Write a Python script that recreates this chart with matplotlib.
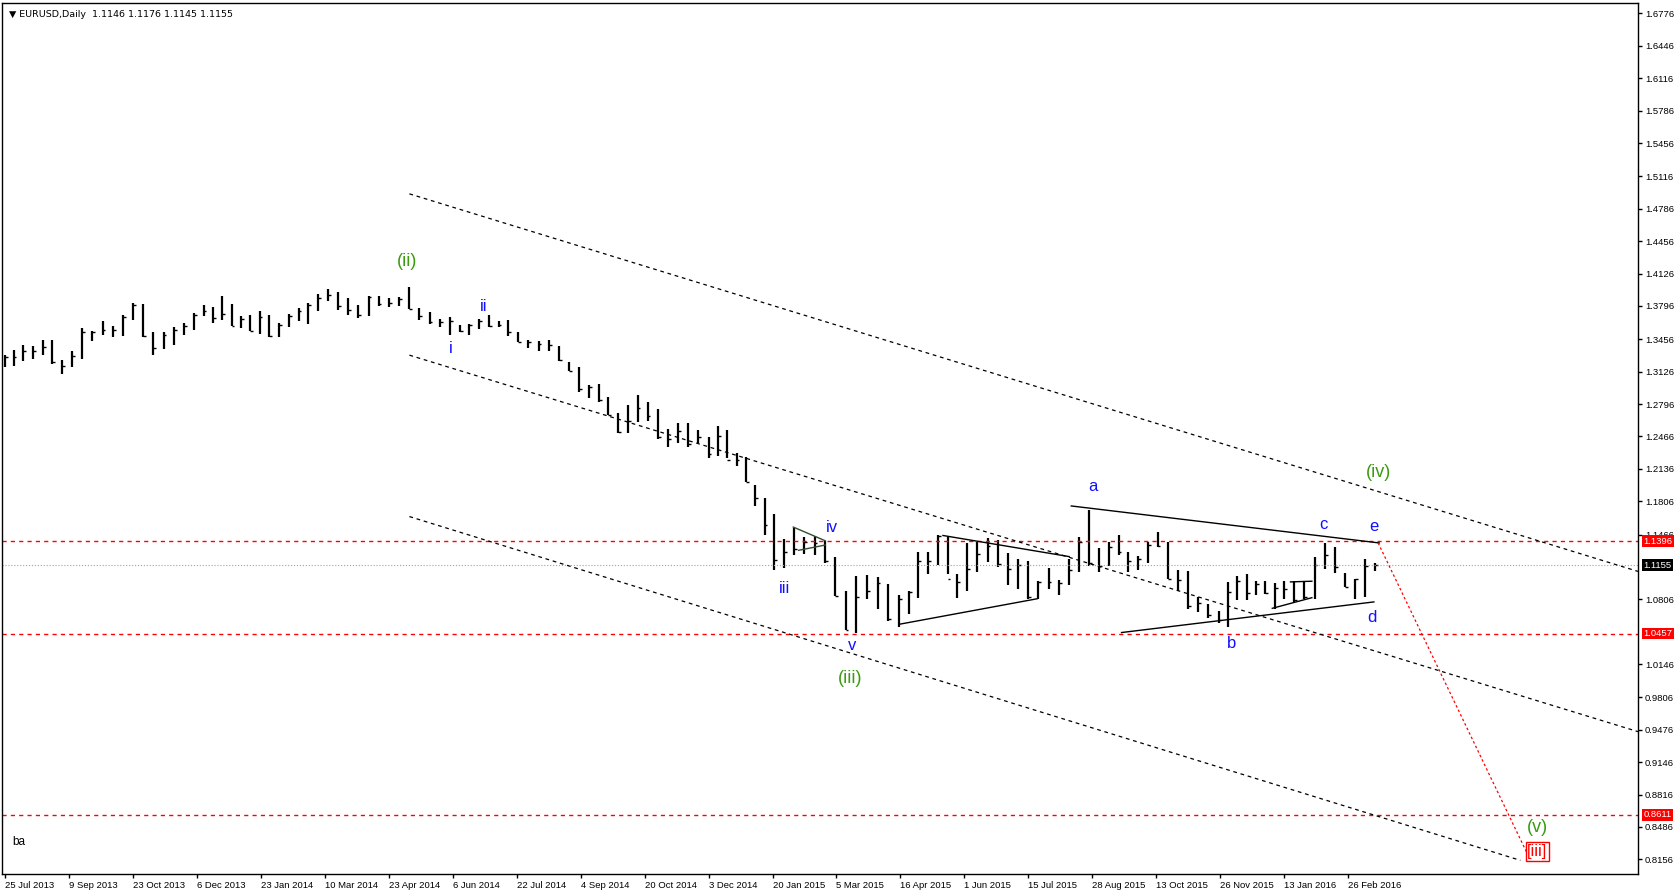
import numpy as np
import pandas as pd
import matplotlib
matplotlib.use("Agg")
import matplotlib.pyplot as plt

# Weekly bars (week starting Monday): high, low, close
week_start = "2013-07-22"
highs = [1.3300,1.3345,1.3400,1.3390,1.3450,1.3450,1.3240,1.3340,1.3570,1.3540,1.3645,1.3590,1.3705,1.3830,1.3815,1.3530,1.3530,1.3580,1.3620,1.3720,1.3810,1.3785,1.3893,1.3815,
         1.3690,1.3700,1.3740,1.3700,1.3620,1.3715,1.3775,1.3825,1.3915,1.3967,1.3935,1.3875,1.3810,1.3900,1.3900,1.3875,1.3890,1.3993,1.3775,1.3735,1.3665,1.3680,1.3600,1.3615,1.3660,1.3700,1.3640,1.3650,1.3530,1.3445,1.3435,1.3445,1.3390,1.3220,1.3170,1.2990,1.3000,1.2865,1.2700,1.2790,1.2885,1.2815,1.2750,1.2540,1.2600,1.2600,1.2530,1.2455,1.2570,1.2530,1.2300,1.2255,
         1.1970,1.1840,1.1680,1.1425,1.1535,1.1445,1.1450,1.1395,1.1240,1.0890,1.1045,1.1050,1.1035,1.0960,1.0850,1.0895,1.1290,1.1290,1.1465,1.1440,1.1060,1.1380,1.1385,1.1435,1.1410,1.1280,1.1215,1.1200,1.0990,1.1125,1.1000,1.1215,1.1440,1.1714,1.1330,1.1385,1.1460,1.1290,1.1245,1.1390,1.1495,1.1390,1.1100,1.1095,1.0825,1.0760,1.0690,1.0980,1.1045,1.1060,1.0990,1.0990,
         1.0970,1.0990,1.0990,1.0990,1.1240,1.1375,1.1340,1.1070,1.1010,1.1215,1.1176]
lows = [1.3175,1.3185,1.3235,1.3255,1.3300,1.3200,1.3105,1.3170,1.3250,1.3440,1.3500,1.3480,1.3490,1.3650,1.3480,1.3295,1.3360,1.3400,1.3500,1.3550,1.3690,1.3625,1.3650,1.3590,
        1.3575,1.3545,1.3510,1.3480,1.3477,1.3585,1.3640,1.3615,1.3740,1.3850,1.3750,1.3705,1.3675,1.3695,1.3795,1.3780,1.3795,1.3765,1.3650,1.3615,1.3585,1.3500,1.3525,1.3500,1.3565,1.3585,1.3585,1.3490,1.3425,1.3365,1.3335,1.3335,1.3235,1.3130,1.2920,1.2860,1.2815,1.2685,1.2500,1.2500,1.2615,1.2625,1.2440,1.2360,1.2400,1.2360,1.2395,1.2245,1.2265,1.2250,1.2160,1.2005,
        1.1755,1.1460,1.1100,1.1120,1.1260,1.1270,1.1260,1.1175,1.0840,1.0490,1.0460,1.0810,1.0710,1.0585,1.0520,1.0660,1.0820,1.1060,1.1160,1.1060,1.0820,1.0890,1.1085,1.1185,1.1135,1.0955,1.0915,1.0810,1.0805,1.0910,1.0850,1.0950,1.1080,1.1150,1.1085,1.1150,1.1260,1.1085,1.1105,1.1180,1.1340,1.1010,1.0895,1.0705,1.0675,1.0620,1.0560,1.0525,1.0800,1.0800,1.0850,1.0860,
        1.0710,1.0805,1.0780,1.0810,1.0810,1.1110,1.1070,1.0930,1.0810,1.0825,1.1095]
closes = [1.3280,1.3275,1.3340,1.3335,1.3380,1.3220,1.3180,1.3290,1.3525,1.3525,1.3555,1.3555,1.3685,1.3805,1.3485,1.3365,1.3495,1.3555,1.3590,1.3705,1.3745,1.3675,1.3710,1.3590,
          1.3665,1.3540,1.3680,1.3485,1.3605,1.3690,1.3740,1.3805,1.3875,1.3910,1.3795,1.3750,1.3705,1.3885,1.3815,1.3830,1.3870,1.3760,1.3695,1.3630,1.3635,1.3645,1.3545,1.3605,1.3645,1.3595,1.3605,1.3525,1.3430,1.3425,1.3410,1.3400,1.3240,1.3130,1.2950,1.2965,1.2835,1.2685,1.2515,1.2625,1.2760,1.2670,1.2455,1.2440,1.2525,1.2390,1.2455,1.2290,1.2465,1.2230,1.2225,1.2000,
          1.1840,1.1565,1.1205,1.1290,1.1315,1.1385,1.1380,1.1195,1.0840,1.0495,1.0825,1.0890,1.0970,1.0600,1.0805,1.0875,1.1200,1.1200,1.1450,1.1015,1.0985,1.1110,1.1265,1.1350,1.1165,1.1110,1.1160,1.0830,1.0980,1.0985,1.0970,1.1105,1.1385,1.1180,1.1150,1.1340,1.1290,1.1195,1.1215,1.1355,1.1350,1.1015,1.1005,1.0740,1.0770,1.0645,1.0590,1.0880,1.0990,1.0865,1.0965,1.0865,
          1.0925,1.0915,1.0795,1.0830,1.1155,1.1255,1.1130,1.0935,1.1010,1.1150,1.1155]

date_labels = ["25 Jul 2013","9 Sep 2013","23 Oct 2013","6 Dec 2013","23 Jan 2014","10 Mar 2014","23 Apr 2014",
               "6 Jun 2014","22 Jul 2014","4 Sep 2014","20 Oct 2014","3 Dec 2014","20 Jan 2015","5 Mar 2015",
               "16 Apr 2015","1 Jun 2015","15 Jul 2015","28 Aug 2015","13 Oct 2015","26 Nov 2015","13 Jan 2016","26 Feb 2016"]
price_ticks = [1.6776,1.6446,1.6116,1.5786,1.5456,1.5116,1.4786,1.4456,1.4126,1.3796,1.3456,1.3126,1.2796,1.2466,
               1.2136,1.1806,1.1466,1.0806,1.0146,0.9806,0.9476,0.9146,0.8816,0.8486,0.8156]
red_levels = [1.1396, 1.0457, 0.8611]
bid = 1.1155

plt.rcParams['font.family'] = ['Liberation Sans', 'DejaVu Sans']
TF = 6.8

label_pos = np.arange(len(date_labels)) * 32.0
label_dates = pd.to_datetime(date_labels, format="%d %b %Y")
label_ord = label_dates.map(pd.Timestamp.toordinal).values.astype(float)

def pos_of_date(d):
    o = float(pd.Timestamp(d).toordinal())
    if o <= label_ord[-1]:
        return float(np.interp(o, label_ord, label_pos))
    return label_pos[-1] + (o - label_ord[-1]) * 32.0 / 45.0

def pos_px(xp):
    return (xp - 3) / 59.8 * 32.0

weeks = pd.date_range(week_start, periods=len(closes), freq="7D") + pd.Timedelta(days=2)
xs = np.array([pos_of_date(d) for d in weeks])

fig = plt.figure(figsize=(16.76, 8.94), dpi=100)
ax = fig.add_axes([2/1676, 20/894, 1636/1676, 871/894])
ax.set_xlim(pos_px(0), pos_px(1530))
ax.set_ylim(0.8006, 1.6883)

ax.vlines(xs, lows, highs, color="black", lw=1.6)
ax.hlines(closes, xs, xs + 1.4, color="black", lw=1.0)

for lv in red_levels:
    ax.axhline(lv, color="#ff0000", ls=(0, (3, 3)), lw=1.0)
ax.axhline(bid, color="#a0a0b0", ls=":", lw=0.8)

def seg(x0, y0, x1, y1, **kw):
    ax.plot([pos_px(x0), pos_px(x1)], [y0, y1], **kw)

dash = dict(color="black", ls=(0, (3, 3)), lw=0.9)
seg(381, 1.4938, 1530, 1.1090, **dash)
seg(381, 1.3294, 1530, 0.9457, **dash)
seg(381, 1.1649, 1420, 0.8145, **dash)
solid = dict(color="black", lw=1.0)
seg(1000, 1.1757, 1288, 1.1380, **solid)
seg(1047, 1.0467, 1283, 1.0779, **solid)
seg(880, 1.1456, 998, 1.1241, **solid)
seg(840, 1.0553, 968, 1.0811, **solid)
seg(740, 1.1542, 770, 1.1402, color="#2f4f2f", lw=1.0)
seg(745, 1.1305, 770, 1.1359, color="#2f4f2f", lw=1.0)
seg(1188, 1.0714, 1225, 1.0822, **solid)
seg(1205, 1.0983, 1225, 1.0990, **solid)
seg(1287, 1.1380, 1428, 0.8178, color="#ff0000", ls=(0, (2, 2)), lw=0.9)

green = "#3a9a10"; blue = "#1010ff"
def lab(xp, y, s, c, size=13):
    ax.text(pos_px(xp), y, s, color=c, fontsize=size, ha="center", va="center")
lab(379, 1.425, "(ii)", green); lab(793, 1.000, "(iii)", green)
lab(1287, 1.210, "(iv)", green); lab(1436, 0.8478, "(v)", green)
ax.text(pos_px(1436), 0.8235, "[iii]", color="red", fontsize=12, ha="center", va="center",
        bbox=dict(boxstyle="square,pad=0.1", fc="white", ec="red", lw=1))
for xp, y, s in [(420,1.336,"i"),(450,1.379,"ii"),(732,1.092,"iii"),(776,1.154,"iv"),(795,1.033,"v"),
                 (1020,1.196,"a"),(1150,1.036,"b"),(1236,1.157,"c"),(1281,1.062,"d"),(1283,1.155,"e")]:
    lab(xp, y, s, blue, 12)

ax.text(0.004, 0.992, "\u25bc EURUSD,Daily  1.1146 1.1176 1.1145 1.1155", transform=ax.transAxes,
        fontsize=TF, va="top", ha="left", family=['DejaVu Sans'])
ax.text(0.006, 0.03, "ba", transform=ax.transAxes, fontsize=8.5, va="bottom")

ax.yaxis.tick_right()
ax.set_yticks(price_ticks)
ax.set_yticklabels([f"{p:.4f}" for p in price_ticks], fontsize=TF)
ax.set_xticks(label_pos)
ax.set_xticklabels(date_labels, fontsize=TF, ha="left")
ax.tick_params(axis="both", length=3, width=1, pad=2)
for s in ax.spines.values():
    s.set_linewidth(1.0)

for lv in red_levels:
    ax.text(1.0035, lv, f"{lv:.4f}", transform=ax.get_yaxis_transform(), fontsize=TF, color="white",
            va="center", ha="left", bbox=dict(boxstyle="square,pad=0.15", fc="#ff0000", ec="none"))
ax.text(1.0035, bid, f"{bid:.4f}", transform=ax.get_yaxis_transform(), fontsize=TF, color="white",
        va="center", ha="left", bbox=dict(boxstyle="square,pad=0.15", fc="black", ec="none"))

fig.savefig("out.png", dpi=100, facecolor="white")
